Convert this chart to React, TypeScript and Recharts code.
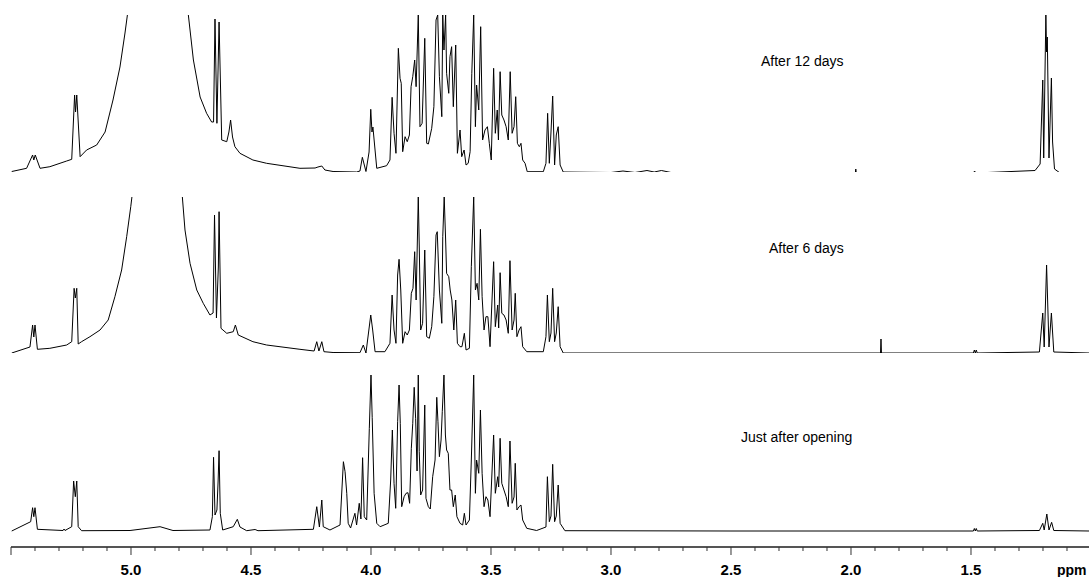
import React from 'react';
import { LineChart, Line, XAxis, YAxis } from 'recharts';

// 1H NMR spectra, ppm vs. intensity (intensity in arbitrary units, 0 = baseline)
// each list is [ppm, intensity], high ppm first
const after12Days: [number, number][] = [
  [5.497, 0.5], [5.435, 3.7], [5.41, 17], [5.405, 12], [5.399, 17], [5.379, 3.7], [5.338, 5.3],
  [5.268, 11], [5.247, 12.7], [5.235, 77], [5.231, 60], [5.226, 77], [5.212, 15.3], [5.185, 22],
  [5.143, 27], [5.108, 40], [5.075, 72], [5.046, 105], [5.025, 139], [5.015, 157], [4.86, 3000],
  [4.761, 157], [4.74, 112], [4.712, 75], [4.685, 58.7], [4.664, 50], [4.656, 50], [4.65, 153],
  [4.642, 48.7], [4.633, 150], [4.622, 32], [4.601, 30.3], [4.592, 40], [4.585, 52], [4.577, 35],
  [4.567, 25.3], [4.546, 18.7], [4.492, 12], [4.435, 8.7], [4.296, 3.7], [4.233, 4], [4.221, 5],
  [4.205, 6], [4.192, 2], [4.158, 0.5], [4.06, 0], [4.046, 1], [4.036, 14.7], [4.021, 0.5],
  [4.008, 20], [4.001, 62.7], [3.996, 40], [3.992, 45], [3.976, 3.7], [3.935, 6.3], [3.921, 12],
  [3.912, 74.7], [3.904, 38.7], [3.896, 18.7], [3.886, 123.7], [3.879, 93.7], [3.874, 88.7],
  [3.868, 20.3], [3.858, 35.3], [3.849, 30.3], [3.84, 37], [3.833, 85.3], [3.826, 95.3],
  [3.818, 112], [3.812, 85.3], [3.803, 157], [3.796, 45.3], [3.787, 48.7], [3.776, 133.7],
  [3.768, 28.7], [3.761, 28], [3.747, 43.7], [3.738, 65.3], [3.729, 152], [3.722, 157],
  [3.715, 95.3], [3.705, 55.3], [3.701, 157], [3.696, 122], [3.689, 157], [3.685, 98.7],
  [3.676, 78.7], [3.671, 115.3], [3.664, 125.3], [3.657, 65.3], [3.647, 127], [3.64, 18.7],
  [3.629, 42], [3.622, 15.3], [3.612, 22], [3.604, 7], [3.595, 8.7], [3.587, 20.3], [3.58, 98.7],
  [3.572, 157], [3.565, 45.3], [3.56, 87], [3.551, 62], [3.543, 145.3], [3.535, 32], [3.525, 42],
  [3.515, 45.3], [3.507, 28.7], [3.499, 12], [3.489, 103.7], [3.482, 38.7], [3.474, 62],
  [3.469, 32], [3.462, 100.3], [3.455, 57], [3.446, 52], [3.437, 45.3], [3.428, 32], [3.42, 100.3],
  [3.412, 38.7], [3.404, 45.3], [3.397, 75.3], [3.39, 28.7], [3.382, 25.3], [3.375, 28.7],
  [3.368, 12], [3.358, 8.7], [3.349, 0.3], [3.282, 0.3], [3.271, 8.7], [3.264, 58.7], [3.257, 8.7],
  [3.25, 40], [3.243, 76], [3.235, 7], [3.228, 37], [3.22, 45.3], [3.212, 7], [3.199, 0],
  [3.0, -0.5], [2.95, 1], [2.9, -0.5], [2.85, 1.5], [2.82, 0], [2.79, 1.5], [2.75, -0.5],
  [1.982, -1], [1.98, 3], [1.978, -1], [1.49, -1], [1.485, 1], [1.48, -1], [1.233, 1.5],
  [1.212, 8], [1.201, 92], [1.197, 14], [1.188, 157], [1.185, 120], [1.182, 135], [1.175, 14],
  [1.165, 94], [1.16, 30], [1.152, 3], [1.129, -1], [1.008, -2],
];

const after6Days: [number, number][] = [
  [5.497, 0], [5.421, 6], [5.41, 28], [5.405, 16], [5.4, 28], [5.39, 3.7], [5.338, 4.7],
  [5.268, 8], [5.247, 11.3], [5.237, 64.7], [5.232, 55], [5.226, 64.7], [5.22, 9], [5.206, 11.3],
  [5.171, 16.3], [5.129, 23], [5.095, 33], [5.067, 56.3], [5.039, 83], [5.018, 116.3],
  [5.001, 146.3], [4.996, 156.3], [4.86, 3000], [4.786, 156], [4.775, 123], [4.754, 89.7],
  [4.726, 63], [4.699, 49.7], [4.671, 38], [4.658, 40], [4.652, 138], [4.644, 35], [4.636, 86],
  [4.633, 141.3], [4.625, 24.7], [4.601, 19.7], [4.574, 21.3], [4.565, 28], [4.553, 18],
  [4.492, 11.3], [4.435, 8], [4.296, 3.7], [4.237, 2], [4.226, 11.3], [4.217, 2], [4.205, 11.3],
  [4.196, 1.3], [4.158, 0.5], [4.046, 0.3], [4.032, 8], [4.021, 0], [4.001, 38], [3.993, 23],
  [3.983, 1.3], [3.942, 1.3], [3.921, 9.7], [3.912, 58], [3.904, 23], [3.896, 9.7], [3.889, 78],
  [3.883, 93.7], [3.876, 63], [3.868, 9.7], [3.858, 21.3], [3.849, 18], [3.84, 23], [3.832, 59.7],
  [3.825, 64.7], [3.818, 101.3], [3.812, 53], [3.803, 156.3], [3.799, 108], [3.793, 23],
  [3.785, 29.7], [3.776, 103], [3.768, 16.3], [3.757, 14.7], [3.747, 26.3], [3.738, 56.3],
  [3.729, 118], [3.724, 121.3], [3.715, 63], [3.705, 29.7], [3.701, 116.3], [3.695, 156.3],
  [3.689, 113], [3.685, 79.7], [3.676, 76.3], [3.67, 63], [3.663, 53], [3.655, 23], [3.647, 53],
  [3.64, 9.7], [3.629, 6.3], [3.621, 6.3], [3.611, 19.7], [3.604, 3], [3.59, 4.7], [3.582, 86.3],
  [3.572, 156.3], [3.565, 63], [3.558, 69.7], [3.551, 53], [3.544, 123.7], [3.537, 56.3],
  [3.529, 23], [3.521, 36.3], [3.513, 36.3], [3.504, 6.3], [3.489, 91.3], [3.482, 26.3],
  [3.472, 48], [3.468, 25], [3.462, 80.3], [3.455, 39.7], [3.446, 38], [3.437, 33], [3.428, 19.7],
  [3.421, 92.3], [3.412, 23], [3.404, 33], [3.399, 59.7], [3.392, 16.3], [3.383, 23],
  [3.375, 26.3], [3.368, 6.3], [3.351, 1.3], [3.282, 1.3], [3.271, 16.3], [3.265, 58],
  [3.257, 11.3], [3.25, 20], [3.243, 64.7], [3.235, 11.3], [3.228, 20], [3.22, 46.3], [3.212, 6.3],
  [3.199, 0], [2.5, 0], [1.877, 0], [1.875, 14], [1.873, 0], [1.49, 0], [1.486, 3], [1.482, 0],
  [1.478, 3], [1.474, 0], [1.215, 1], [1.201, 40], [1.195, 6], [1.185, 88], [1.175, 6],
  [1.165, 40], [1.155, 1], [1.008, 0],
];

const justAfterOpening: [number, number][] = [
  [5.497, 0], [5.418, 9.3], [5.41, 23.3], [5.405, 14.3], [5.4, 23.3], [5.39, 1.7], [5.283, 0.5],
  [5.279, 2], [5.275, 0.5], [5.247, 4.3], [5.239, 50], [5.232, 34.3], [5.226, 50], [5.22, 4.3],
  [5.206, 0.3], [5.004, 0.5], [4.879, 4.3], [4.825, 0.5], [4.671, 1], [4.661, 14.3],
  [4.656, 73.7], [4.65, 16], [4.642, 21], [4.637, 50], [4.633, 80.3], [4.628, 17.7], [4.618, 1],
  [4.574, 4.3], [4.557, 11.7], [4.546, 4], [4.518, 0.3], [4.483, 1.5], [4.471, 0.3], [4.24, 1.7],
  [4.226, 24.3], [4.215, 4], [4.205, 31], [4.199, 4.3], [4.171, 1], [4.129, 6], [4.115, 69.3],
  [4.108, 59.3], [4.101, 37.7], [4.095, 7.7], [4.085, 3], [4.067, 17.7], [4.06, 6], [4.049, 27.7],
  [4.042, 12], [4.035, 73.3], [4.028, 14.3], [4.018, 11], [4.007, 102.7], [4.0, 156],
  [3.995, 113.7], [3.987, 37.7], [3.976, 7.7], [3.962, 4.3], [3.928, 7.7], [3.918, 51],
  [3.911, 101], [3.904, 47.7], [3.897, 22.7], [3.889, 109.3], [3.883, 146], [3.878, 107.7],
  [3.872, 24.3], [3.862, 34.3], [3.854, 37.7], [3.846, 38.3], [3.839, 27.7], [3.832, 82.7],
  [3.826, 107.7], [3.82, 143.7], [3.814, 112.7], [3.808, 60], [3.803, 156], [3.799, 79.3],
  [3.793, 36], [3.785, 41], [3.776, 126], [3.771, 32.7], [3.761, 24.3], [3.753, 22], [3.743, 54.3],
  [3.733, 71], [3.726, 133.7], [3.721, 109.3], [3.715, 74.3], [3.708, 91], [3.703, 119.3],
  [3.696, 156], [3.69, 96], [3.685, 81], [3.678, 77.7], [3.671, 41], [3.664, 41], [3.657, 24.3],
  [3.649, 36], [3.642, 14.3], [3.629, 7.7], [3.618, 6], [3.611, 17.7], [3.604, 6], [3.59, 11],
  [3.582, 71], [3.572, 156], [3.565, 37.7], [3.56, 71], [3.551, 57.7], [3.544, 121], [3.537, 57.7],
  [3.529, 24.3], [3.521, 34.3], [3.513, 31], [3.504, 14.3], [3.489, 96], [3.482, 37.7],
  [3.472, 54.3], [3.468, 44], [3.462, 92.7], [3.455, 47.7], [3.446, 41], [3.437, 34.3],
  [3.428, 24.3], [3.421, 90], [3.412, 27.7], [3.404, 34], [3.399, 67.7], [3.392, 21], [3.383, 24.3],
  [3.375, 26], [3.368, 11], [3.351, 2.7], [3.31, 0.5], [3.271, 4], [3.265, 54.3], [3.257, 9.3],
  [3.25, 15], [3.243, 66.7], [3.235, 9.3], [3.228, 15], [3.22, 46], [3.212, 7.7], [3.192, 0.3],
  [2.5, 0], [1.49, 0], [1.486, 2.5], [1.482, 0], [1.478, 2.5], [1.474, 0], [1.215, 0.5],
  [1.201, 7.7], [1.195, 1], [1.184, 17], [1.175, 1], [1.164, 8.7], [1.155, 0.5], [1.008, 0],
];

const majorTicks = [5.0, 4.5, 4.0, 3.5, 3.0, 2.5, 2.0, 1.5];
const minorTicks = [5.5, 5.4, 5.3, 5.2, 5.1, 4.9, 4.8, 4.7, 4.6, 4.4, 4.3, 4.2, 4.1, 3.9, 3.8, 3.7, 3.6,
  3.4, 3.3, 3.2, 3.1, 2.9, 2.8, 2.7, 2.6, 2.4, 2.3, 2.2, 2.1, 1.9, 1.8, 1.7, 1.6, 1.4, 1.3, 1.2, 1.1];
const allTicks = [...minorTicks, ...majorTicks].sort((a, b) => b - a);

const ppmDomain: [number, number] = [1.0083, 5.5];
const labelFont = '"Liberation Sans", Arial, sans-serif';

const toRows = (pts: [number, number][]) => pts.map(([ppm, i]) => ({ ppm, i }));

const AxisTick = ({ x, y, payload }: any) => {
  const v = payload.value;
  const isMajor = majorTicks.includes(v) || v === 5.5;
  return (
    <g>
      <line x1={x} y1={y} x2={x} y2={y + (isMajor ? 8 : 4)} stroke="#333" strokeWidth={1} />
      {majorTicks.includes(v) && (
        <text x={x} y={y + 28} textAnchor="middle" fontFamily={labelFont} fontWeight="bold"
          fontSize={15} fill="#000">
          {v.toFixed(1)}
        </text>
      )}
    </g>
  );
};

function Trace({ pts, top, height, yDomain, withAxis }: {
  pts: [number, number][]; top: number; height: number; yDomain: [number, number]; withAxis?: boolean;
}) {
  return (
    <div style={{ position: 'absolute', left: 0, top }}>
      <LineChart width={1089} height={height + (withAxis ? 32 : 0)} data={toRows(pts)}
        margin={{ top: 0, right: 0, bottom: 0, left: 11 }}>
        <XAxis dataKey="ppm" type="number" domain={ppmDomain} reversed allowDataOverflow
          hide={!withAxis} ticks={allTicks} interval={0} tick={<AxisTick />} tickLine={false}
          tickSize={0} tickMargin={0} height={32} axisLine={{ stroke: '#555', strokeWidth: 2 }} />
        <YAxis hide type="number" domain={yDomain} allowDataOverflow />
        <Line dataKey="i" type="linear" stroke="#000" strokeWidth={1} dot={false}
          isAnimationActive={false} />
      </LineChart>
    </div>
  );
}

const labelStyle: React.CSSProperties = {
  position: 'absolute', fontFamily: labelFont, fontSize: 14, color: '#000', whiteSpace: 'nowrap',
};

export default function App() {
  return (
    <div style={{ position: 'absolute', left: 0, top: 0, width: 1089, height: 577, background: '#fff', overflow: 'hidden' }}>
      <Trace pts={after12Days} top={15} height={157} yDomain={[0, 157]} />
      <Trace pts={after6Days} top={197} height={156} yDomain={[0, 156]} />
      <Trace pts={justAfterOpening} top={375} height={172} yDomain={[-16, 156]} withAxis />
      <div style={{ ...labelStyle, left: 761, top: 53 }}>After 12 days</div>
      <div style={{ ...labelStyle, left: 769, top: 240 }}>After 6 days</div>
      <div style={{ ...labelStyle, left: 741, top: 429 }}>Just after opening</div>
      <div style={{ position: 'absolute', left: 1057, top: 562, fontFamily: labelFont, fontWeight: 'bold', fontSize: 14 }}>ppm</div>
    </div>
  );
}
